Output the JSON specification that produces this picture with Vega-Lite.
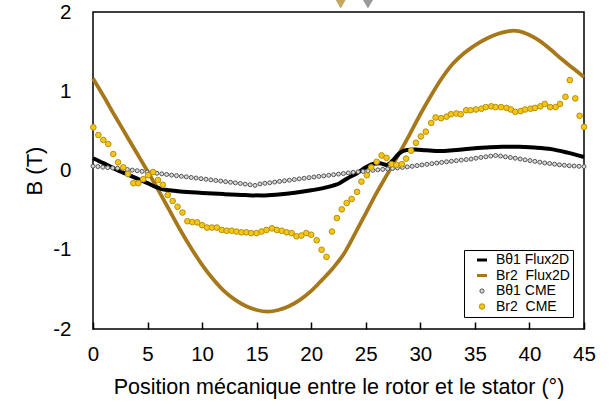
{
  "$schema": "https://vega.github.io/schema/vega-lite/v6.json",
  "width": 491,
  "height": 317,
  "autosize": "none",
  "padding": {"left": 93, "top": 12, "right": 27, "bottom": 81},
  "config": {
    "font": "Liberation Sans",
    "view": {"stroke": "black", "strokeWidth": 1.5},
    "axis": {"grid": false, "domain": false, "labelColor": "black", "titleColor": "black", "labelFont": "Liberation Sans", "titleFont": "Liberation Sans", "titleFontWeight": "normal"}
  },
  "datasets": {
    "grayCME": [
      {"x":0.00,"y":0.055},{"x":0.45,"y":0.050},{"x":0.90,"y":0.042},{"x":1.35,"y":0.036},{"x":1.80,"y":0.032},{"x":2.25,"y":0.028},{"x":2.70,"y":0.021},{"x":3.15,"y":0.013},{"x":3.60,"y":0.005},{"x":4.05,"y":-0.003},
      {"x":4.50,"y":-0.011},{"x":4.95,"y":-0.019},{"x":5.40,"y":-0.027},{"x":5.85,"y":-0.035},{"x":6.30,"y":-0.042},{"x":6.75,"y":-0.050},{"x":7.20,"y":-0.058},{"x":7.65,"y":-0.065},{"x":8.10,"y":-0.073},{"x":8.55,"y":-0.080},
      {"x":9.00,"y":-0.088},{"x":9.45,"y":-0.095},{"x":9.90,"y":-0.103},{"x":10.35,"y":-0.110},{"x":10.80,"y":-0.118},{"x":11.25,"y":-0.126},{"x":11.70,"y":-0.133},{"x":12.15,"y":-0.141},{"x":12.60,"y":-0.148},{"x":13.05,"y":-0.156},
      {"x":13.50,"y":-0.164},{"x":13.95,"y":-0.172},{"x":14.40,"y":-0.180},{"x":14.85,"y":-0.188},{"x":15.30,"y":-0.170},{"x":15.75,"y":-0.162},{"x":16.20,"y":-0.155},{"x":16.65,"y":-0.146},{"x":17.10,"y":-0.138},{"x":17.55,"y":-0.130},
      {"x":18.00,"y":-0.122},{"x":18.45,"y":-0.114},{"x":18.90,"y":-0.106},{"x":19.35,"y":-0.098},{"x":19.80,"y":-0.090},{"x":20.25,"y":-0.082},{"x":20.70,"y":-0.075},{"x":21.15,"y":-0.068},{"x":21.60,"y":-0.060},{"x":22.05,"y":-0.053},
      {"x":22.50,"y":-0.045},{"x":22.95,"y":-0.038},{"x":23.40,"y":-0.030},{"x":23.85,"y":-0.023},{"x":24.30,"y":-0.017},{"x":24.75,"y":-0.011},{"x":25.20,"y":-0.004},{"x":25.65,"y":0.002},{"x":26.10,"y":0.008},{"x":26.55,"y":0.014},
      {"x":27.00,"y":0.020},{"x":27.45,"y":0.026},{"x":27.90,"y":0.032},{"x":28.35,"y":0.039},{"x":28.80,"y":0.046},{"x":29.25,"y":0.053},{"x":29.70,"y":0.062},{"x":30.15,"y":0.070},{"x":30.60,"y":0.078},{"x":31.05,"y":0.086},
      {"x":31.50,"y":0.094},{"x":31.95,"y":0.102},{"x":32.40,"y":0.110},{"x":32.85,"y":0.117},{"x":33.30,"y":0.124},{"x":33.75,"y":0.131},{"x":34.20,"y":0.138},{"x":34.65,"y":0.145},{"x":35.10,"y":0.155},{"x":35.55,"y":0.165},
      {"x":36.00,"y":0.173},{"x":36.45,"y":0.182},{"x":36.90,"y":0.190},{"x":37.35,"y":0.182},{"x":37.80,"y":0.173},{"x":38.25,"y":0.164},{"x":38.70,"y":0.155},{"x":39.15,"y":0.145},{"x":39.60,"y":0.135},{"x":40.05,"y":0.125},
      {"x":40.50,"y":0.115},{"x":40.95,"y":0.105},{"x":41.40,"y":0.095},{"x":41.85,"y":0.088},{"x":42.30,"y":0.080},{"x":42.75,"y":0.072},{"x":43.20,"y":0.066},{"x":43.65,"y":0.061},{"x":44.10,"y":0.057},{"x":44.55,"y":0.053},{"x":45.00,"y":0.050}
    ],
    "yellowCME": [
      {"x":0.03,"y":0.545},{"x":0.49,"y":0.448},{"x":0.95,"y":0.385},{"x":1.4,"y":0.334},{"x":1.86,"y":0.208},{"x":2.3,"y":0.103},{"x":2.78,"y":0.04},{"x":3.2,"y":-0.044},{"x":3.7,"y":-0.16},{"x":4.15,"y":-0.16},
      {"x":4.6,"y":-0.11},{"x":5.05,"y":-0.06},{"x":5.5,"y":-0.02},{"x":5.95,"y":-0.12},{"x":6.4,"y":-0.18},{"x":6.85,"y":-0.31},{"x":7.3,"y":-0.385},{"x":7.75,"y":-0.457},{"x":8.2,"y":-0.53},{"x":8.65,"y":-0.64},
      {"x":9.1,"y":-0.65},{"x":9.55,"y":-0.655},{"x":10.0,"y":-0.69},{"x":10.45,"y":-0.72},{"x":10.9,"y":-0.72},{"x":11.35,"y":-0.72},{"x":11.8,"y":-0.75},{"x":12.25,"y":-0.76},{"x":12.7,"y":-0.76},{"x":13.15,"y":-0.77},
      {"x":13.6,"y":-0.78},{"x":14.05,"y":-0.78},{"x":14.5,"y":-0.79},{"x":15.0,"y":-0.79},{"x":15.45,"y":-0.77},{"x":15.9,"y":-0.75},{"x":16.4,"y":-0.73},{"x":16.85,"y":-0.75},{"x":17.3,"y":-0.76},{"x":17.75,"y":-0.78},
      {"x":18.2,"y":-0.79},{"x":18.65,"y":-0.83},{"x":19.1,"y":-0.82},{"x":19.55,"y":-0.79},{"x":20.0,"y":-0.81},{"x":20.5,"y":-0.88},{"x":20.95,"y":-1.0},{"x":21.4,"y":-1.09},{"x":21.9,"y":-0.77},{"x":22.35,"y":-0.6},
      {"x":22.8,"y":-0.49},{"x":23.25,"y":-0.41},{"x":23.7,"y":-0.36},{"x":24.2,"y":-0.27},{"x":24.6,"y":-0.14},{"x":25.1,"y":-0.06},{"x":25.5,"y":0.04},{"x":26.0,"y":0.11},{"x":26.45,"y":0.19},{"x":26.9,"y":0.16},
      {"x":27.35,"y":0.08},{"x":27.8,"y":0.07},{"x":28.3,"y":0.08},{"x":28.7,"y":0.15},{"x":29.15,"y":0.25},{"x":29.6,"y":0.35},{"x":30.05,"y":0.43},{"x":30.5,"y":0.49},{"x":31.0,"y":0.6},{"x":31.4,"y":0.67},
      {"x":31.9,"y":0.66},{"x":32.4,"y":0.68},{"x":32.8,"y":0.71},{"x":33.3,"y":0.72},{"x":33.7,"y":0.71},{"x":34.2,"y":0.76},{"x":34.6,"y":0.76},{"x":35.1,"y":0.77},{"x":35.6,"y":0.78},{"x":36.0,"y":0.8},
      {"x":36.5,"y":0.81},{"x":36.9,"y":0.8},{"x":37.4,"y":0.8},{"x":37.9,"y":0.79},{"x":38.3,"y":0.77},{"x":38.7,"y":0.74},{"x":39.2,"y":0.75},{"x":39.6,"y":0.77},{"x":40.1,"y":0.78},{"x":40.5,"y":0.79},
      {"x":41.0,"y":0.81},{"x":41.4,"y":0.84},{"x":41.9,"y":0.8},{"x":42.4,"y":0.8},{"x":42.8,"y":0.84},{"x":43.3,"y":0.93},{"x":43.7,"y":1.14},{"x":44.2,"y":0.91},{"x":44.6,"y":0.69},{"x":45.0,"y":0.55}
    ],
    "brownFlux": [
      {"x":0,"y":1.16},{"x":1,"y":0.93},{"x":2,"y":0.69},{"x":3,"y":0.457},{"x":4,"y":0.224},{"x":5,"y":-0.01},{"x":6,"y":-0.25},{"x":7,"y":-0.5},{"x":8,"y":-0.75},{"x":9,"y":-0.98},
      {"x":10,"y":-1.19},{"x":11,"y":-1.37},{"x":12,"y":-1.52},{"x":13,"y":-1.63},{"x":14,"y":-1.71},{"x":15,"y":-1.76},{"x":16,"y":-1.78},{"x":17,"y":-1.76},{"x":18,"y":-1.71},{"x":19,"y":-1.63},
      {"x":20,"y":-1.52},{"x":21,"y":-1.38},{"x":22,"y":-1.23},{"x":23,"y":-1.05},{"x":24,"y":-0.8},{"x":25,"y":-0.54},{"x":26,"y":-0.28},{"x":27,"y":-0.04},{"x":28,"y":0.2},{"x":29,"y":0.45},
      {"x":30,"y":0.71},{"x":31,"y":0.95},{"x":32,"y":1.17},{"x":33,"y":1.35},{"x":34,"y":1.48},{"x":35,"y":1.58},{"x":36,"y":1.66},{"x":37,"y":1.72},{"x":38,"y":1.755},{"x":38.5,"y":1.765},
      {"x":39,"y":1.76},{"x":40,"y":1.71},{"x":41,"y":1.63},{"x":42,"y":1.52},{"x":43,"y":1.4},{"x":44,"y":1.29},{"x":45,"y":1.18}
    ],
    "blackFlux": [
      {"x":0,"y":0.155},{"x":1,"y":0.09},{"x":2,"y":0.02},{"x":3,"y":-0.04},{"x":4,"y":-0.1},{"x":5,"y":-0.16},{"x":5.8,"y":-0.21},{"x":6.3,"y":-0.235},{"x":7,"y":-0.25},{"x":8,"y":-0.265},
      {"x":10,"y":-0.283},{"x":12,"y":-0.298},{"x":14,"y":-0.31},{"x":15.5,"y":-0.315},{"x":17,"y":-0.302},{"x":18.5,"y":-0.28},{"x":20,"y":-0.25},{"x":21,"y":-0.225},{"x":22,"y":-0.19},{"x":22.6,"y":-0.16},
      {"x":23.3,"y":-0.1},{"x":24.2,"y":-0.035},{"x":25,"y":0.04},{"x":25.7,"y":0.085},{"x":26.3,"y":0.09},{"x":26.9,"y":0.07},{"x":27.5,"y":0.13},{"x":28.1,"y":0.22},{"x":28.75,"y":0.26},{"x":29.5,"y":0.265},
      {"x":30.5,"y":0.255},{"x":31.8,"y":0.245},{"x":33,"y":0.255},{"x":34.5,"y":0.275},{"x":36,"y":0.29},{"x":37.5,"y":0.3},{"x":39,"y":0.3},{"x":40.5,"y":0.29},{"x":42,"y":0.27},{"x":43.5,"y":0.225},{"x":45,"y":0.17}
    ],
    "minorTicks": [{"x":2.5},{"x":7.5},{"x":12.5},{"x":17.5},{"x":22.5},{"x":27.5},{"x":32.5},{"x":37.5},{"x":42.5}],
    "markers": [{"x":22.7,"y":2.1,"m":"a"},{"x":25.2,"y":2.1,"m":"b"}]
  },
  "encoding": {
    "x": {"field": "x", "type": "quantitative", "scale": {"domain": [0, 45], "nice": false, "zero": false},
      "axis": {"values": [0,5,10,15,20,25,30,35,40,45], "title": "Position mécanique entre le rotor et le stator (°)", "labelFontSize": 20.5, "titleFontSize": 21.5, "offset": -7, "tickSize": 7, "tickColor": "black", "tickWidth": 1.5, "labelPadding": 15.5, "titlePadding": 11, "labelFlush": false}},
    "y": {"field": "y", "type": "quantitative", "scale": {"domain": [-2, 2], "nice": false, "zero": false},
      "axis": {"values": [-2,-1,0,1,2], "title": "B (T)", "labelFontSize": 20.5, "titleFontSize": 22, "ticks": false, "labelPadding": 22, "titlePadding": 6, "labelExpr": "'' + datum.value", "labelFlush": false}}
  },
  "layer": [
    {
      "data": {"name": "brownFlux"},
      "mark": {"type": "line", "strokeWidth": 3.8, "interpolate": "monotone"},
      "encoding": {
        "stroke": {"datum": "Br2\u00a0 Flux2D", "type": "nominal",
          "scale": {"domain": ["Bθ1 Flux2D", "Br2\u00a0 Flux2D", "Bθ1 CME", "Br2\u00a0 CME"], "range": ["#000000", "#a6781a", "#555555", "#b8900a"]},
          "legend": {"title": null, "orient": "none", "legendX": 371, "legendY": 238, "strokeColor": "black", "fillColor": "white", "padding": 3,
            "labelFont": "Liberation Sans", "labelFontSize": 14, "labelColor": "black", "rowPadding": 1.5, "labelOffset": 7, "symbolOffset": 8, "symbolSize": 100, "symbolType": "stroke", "symbolStrokeWidth": 3,
            "encode": {"symbols": {"update": {
              "shape": {"signal": "datum.index >= 2 ? 'circle' : 'stroke'"},
              "fill": {"signal": "datum.index == 3 ? '#f5c518' : (datum.index == 2 ? '#d9d9d9' : null)"},
              "strokeWidth": {"signal": "datum.index >= 2 ? 1 : 3"},
              "size": {"signal": "datum.index == 3 ? 30 : (datum.index == 2 ? 18 : 100)"}
            }}}}
        }
      }
    },
    {
      "data": {"name": "blackFlux"},
      "mark": {"type": "line", "strokeWidth": 4, "interpolate": "monotone"},
      "encoding": {"stroke": {"datum": "Bθ1 Flux2D", "type": "nominal"}}
    },
    {
      "data": {"name": "grayCME"},
      "mark": {"type": "point", "shape": "circle", "size": 16, "strokeWidth": 1, "fill": "#d9d9d9", "opacity": 1, "fillOpacity": 1},
      "encoding": {"stroke": {"datum": "Bθ1 CME", "type": "nominal"}}
    },
    {
      "data": {"name": "yellowCME"},
      "mark": {"type": "point", "shape": "circle", "size": 32, "strokeWidth": 1, "fill": "#f5c518", "opacity": 1, "fillOpacity": 1},
      "encoding": {"stroke": {"datum": "Br2\u00a0 CME", "type": "nominal"}}
    },
    {
      "data": {"name": "minorTicks"},
      "mark": {"type": "tick", "color": "black", "orient": "vertical", "size": 3, "thickness": 1.5, "yOffset": -1.5},
      "encoding": {"y": {"datum": -2}}
    },
    {
      "data": {"name": "markers"},
      "mark": {"type": "point", "shape": "triangle-down", "size": 110, "filled": true, "opacity": 1},
      "encoding": {"fill": {"field": "m", "type": "nominal", "scale": {"domain": ["a", "b"], "range": ["#c4a860", "#9a9a9a"]}, "legend": null}}
    }
  ]
}
